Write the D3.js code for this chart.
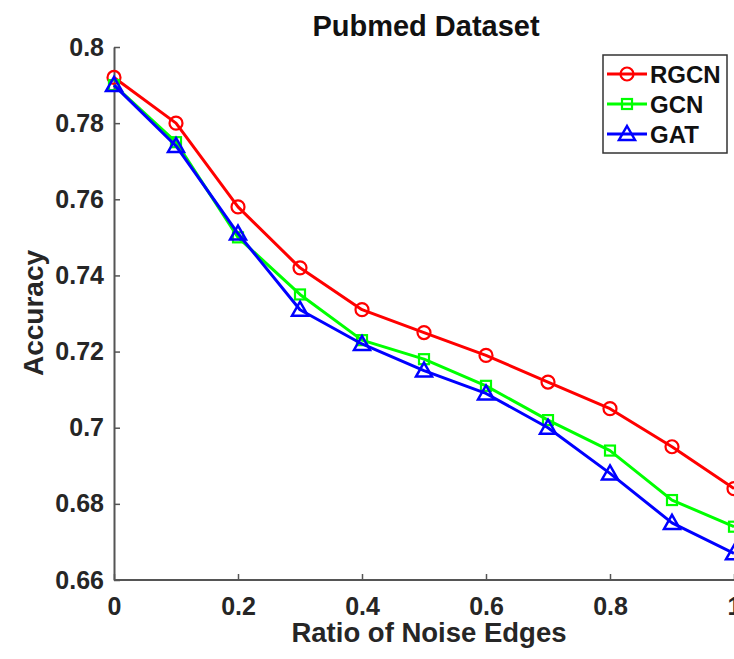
<!DOCTYPE html>
<html>
<head>
<meta charset="utf-8">
<script src="https://cdn.jsdelivr.net/npm/d3@7"></script>
<style>
  html, body { margin: 0; padding: 0; background: #fff; overflow: hidden; }
  svg { display: block; }
  text { font-family: "Liberation Sans", Arial, Helvetica, sans-serif; font-weight: bold; }
</style>
</head>
<body>
<svg id="chart" width="734" height="659"></svg>
<script>
const ratios = [0, 0.1, 0.2, 0.3, 0.4, 0.5, 0.6, 0.7, 0.8, 0.9, 1.0];
const rgcn = [0.792, 0.780, 0.758, 0.742, 0.731, 0.725, 0.719, 0.712, 0.705, 0.695, 0.684];
const gcn  = [0.790, 0.775, 0.750, 0.735, 0.723, 0.718, 0.711, 0.702, 0.694, 0.681, 0.674];
const gat  = [0.790, 0.774, 0.751, 0.731, 0.722, 0.715, 0.709, 0.700, 0.688, 0.675, 0.667];
const seriesNames = ["RGCN", "GCN", "GAT"];
const seriesColors = ["#ff0000", "#00ff00", "#0000ff"];
const seriesMarkers = ["circle", "square", "triangle"];
const xTicks = [0, 0.2, 0.4, 0.6, 0.8, 1];
const xTickLabels = ["0", "0.2", "0.4", "0.6", "0.8", "1"];
const yTicks = [0.66, 0.68, 0.70, 0.72, 0.74, 0.76, 0.78, 0.80];
const yTickLabels = ["0.66", "0.68", "0.7", "0.72", "0.74", "0.76", "0.78", "0.8"];
const titleText = "Pubmed Dataset";
const xLabel = "Ratio of Noise Edges";
const yLabel = "Accuracy";

const svg = d3.select("#chart");
const x = d3.scaleLinear().domain([0, 1]).range([114, 734]);
const y = d3.scaleLinear().domain([0.66, 0.80]).range([580, 47]);

const axisColor = "#555";
const textColor = "#262626";

// axes
const xAxis = d3.axisBottom(x).tickValues(xTicks)
  .tickFormat((d, i) => xTickLabels[i]).tickSizeInner(-6).tickSizeOuter(0).tickPadding(17);
const yAxis = d3.axisLeft(y).tickValues(yTicks)
  .tickFormat((d, i) => yTickLabels[i]).tickSizeInner(-6).tickSizeOuter(0).tickPadding(10);

const gx = svg.append("g").attr("transform", `translate(0,${y(0.66)})`).call(xAxis);
const gy = svg.append("g").attr("transform", `translate(${x(0)},0)`).call(yAxis);
[gx, gy].forEach(g => {
  g.select(".domain").attr("stroke", axisColor).attr("stroke-width", 2);
  g.selectAll(".tick line").attr("stroke", axisColor).attr("stroke-width", 1.5);
  g.selectAll(".tick text").attr("fill", textColor).style("font-size", "25px")
    .style("font-family", '"Liberation Sans", Arial, sans-serif').style("font-weight", "bold");
});
gx.select(".domain").attr("d", `M${x(0)},0H${x(1)}`);

// title and labels
svg.append("text").attr("x", 426).attr("y", 36).attr("text-anchor", "middle")
  .style("font-size", "29px").attr("fill", "#111").text(titleText);
svg.append("text").attr("x", 429).attr("y", 642).attr("text-anchor", "middle")
  .style("font-size", "27.5px").attr("fill", textColor).text(xLabel);
svg.append("text").attr("transform", "translate(43,313) rotate(-90)").attr("text-anchor", "middle")
  .style("font-size", "28px").attr("fill", textColor).text(yLabel);

// markers
function drawMarker(g, type, cx, cy, color) {
  if (type === "circle") {
    g.append("circle").attr("cx", cx).attr("cy", cy).attr("r", 6.5)
      .attr("fill", "none").attr("stroke", color).attr("stroke-width", 2.2);
  } else if (type === "square") {
    g.append("rect").attr("x", cx - 5).attr("y", cy - 5).attr("width", 10).attr("height", 10)
      .attr("fill", "none").attr("stroke", color).attr("stroke-width", 2.2);
  } else {
    g.append("path").attr("d", `M${cx},${cy - 8}L${cx + 8},${cy + 6}L${cx - 8},${cy + 6}Z`)
      .attr("fill", "none").attr("stroke", color).attr("stroke-width", 2.5).attr("stroke-linejoin", "miter");
  }
}

const allSeries = [rgcn, gcn, gat];
const line = d3.line().x((d, i) => x(ratios[i])).y(d => y(d));
allSeries.forEach((vals, si) => {
  const g = svg.append("g");
  g.append("path").datum(vals).attr("d", line).attr("fill", "none")
    .attr("stroke", seriesColors[si]).attr("stroke-width", 3).attr("stroke-linejoin", "round");
  vals.forEach((v, i) => drawMarker(g, seriesMarkers[si], x(ratios[i]), y(v), seriesColors[si]));
});

// legend
const lg = svg.append("g");
lg.append("rect").attr("x", 603).attr("y", 55).attr("width", 124).attr("height", 98)
  .attr("fill", "#fff").attr("stroke", "#333").attr("stroke-width", 1.5);
const legendY = [74, 104, 134];
seriesNames.forEach((name, si) => {
  const ly = legendY[si];
  lg.append("line").attr("x1", 607).attr("x2", 647).attr("y1", ly).attr("y2", ly)
    .attr("stroke", seriesColors[si]).attr("stroke-width", 3);
  drawMarker(lg, seriesMarkers[si], 627, ly, seriesColors[si]);
  lg.append("text").attr("x", 650).attr("y", ly + 9).style("font-size", "24px")
    .attr("fill", "#111").text(name);
});
</script>
</body>
</html>
